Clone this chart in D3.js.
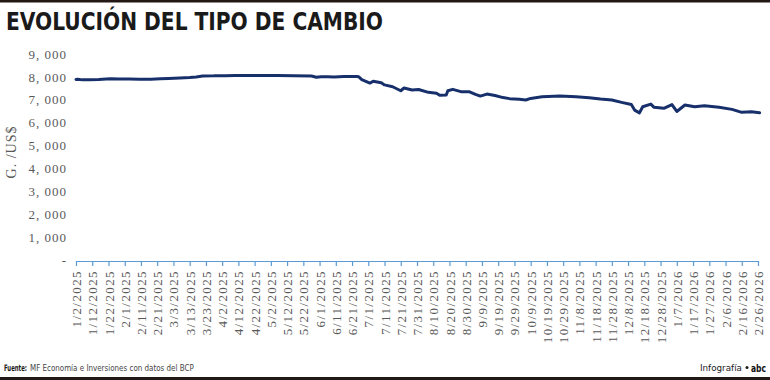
<html>
<style>
    body {
      margin: 0;
      background: #fff;
    }
    .axis text {
      font-family: "Liberation Serif", "DejaVu Serif", serif;
      fill: #595959;
    }
</style>
<body>
<script src="https://cdn.jsdelivr.net/npm/d3@7"></script>
<script>
// data (guaranies per US$)
const dates = [
  "1/2/2025","1/3/2025","1/6/2025","1/10/2025","1/16/2025","1/23/2025","1/29/2025","2/4/2025","2/10/2025","2/17/2025",
  "2/23/2025","2/28/2025","3/7/2025","3/13/2025","3/17/2025","3/21/2025","3/28/2025","3/31/2025","4/4/2025","4/10/2025",
  "4/18/2025","4/28/2025","5/6/2025","5/16/2025","5/27/2025","5/30/2025","6/2/2025","6/6/2025","6/10/2025","6/16/2025",
  "6/20/2025","6/24/2025","6/25/2025","6/27/2025","7/2/2025","7/4/2025","7/9/2025","7/11/2025","7/16/2025","7/21/2025",
  "7/23/2025","7/28/2025","8/1/2025","8/7/2025","8/12/2025","8/14/2025","8/18/2025","8/19/2025","8/22/2025","8/27/2025",
  "9/1/2025","9/5/2025","9/8/2025","9/12/2025","9/17/2025","9/22/2025","9/26/2025","10/2/2025","10/6/2025","10/9/2025",
  "10/16/2025","10/27/2025","11/6/2025","11/14/2025","11/21/2025","11/28/2025","12/4/2025","12/10/2025","12/12/2025","12/15/2025",
  "12/17/2025","12/22/2025","12/24/2025","12/30/2025","1/4/2026","1/7/2026","1/12/2026","1/18/2026","1/24/2026","2/2/2026",
  "2/10/2026","2/16/2026","2/22/2026","2/27/2026"
];
const values = [
  7890,7900,7870,7875,7885,7915,7905,7905,7895,7900,
  7915,7930,7950,7975,8000,8035,8045,8055,8045,8065,
  8065,8060,8060,8055,8040,7985,8010,8005,8000,8020,
  8015,8020,8010,7880,7730,7810,7740,7650,7570,7395,
  7515,7430,7450,7325,7285,7195,7205,7395,7455,7355,
  7355,7235,7160,7250,7185,7095,7050,7020,6990,7060,
  7130,7160,7130,7090,7030,6990,6885,6790,6550,6430,
  6695,6810,6670,6625,6790,6490,6770,6695,6740,6670,
  6580,6450,6475,6430
];

const xTickLabels = [
  "1/2/2025","1/12/2025","1/22/2025","2/1/2025","2/11/2025","2/21/2025","3/3/2025","3/13/2025","3/23/2025",
  "4/2/2025","4/12/2025","4/22/2025","5/2/2025","5/12/2025","5/22/2025","6/1/2025","6/11/2025","6/21/2025",
  "7/1/2025","7/11/2025","7/21/2025","7/31/2025","8/10/2025","8/20/2025","8/30/2025","9/9/2025","9/19/2025",
  "9/29/2025","10/9/2025","10/19/2025","10/29/2025","11/8/2025","11/18/2025","11/28/2025","12/8/2025",
  "12/18/2025","12/28/2025","1/7/2026","1/17/2026","1/27/2026","2/6/2026","2/16/2026","2/26/2026"
];
const yTicks = [0,1000,2000,3000,4000,5000,6000,7000,8000,9000];

const W = 770, H = 380;
const parse = d3.timeParse("%-m/%-d/%Y");
const fmt = d3.timeFormat("%-m/%-d/%Y");

const svg = d3.select("body").append("svg")
    .attr("width", W)
    .attr("height", H)
    .style("display", "block");

// squeeze text horizontally so it is w wide, keeping its height
const squeeze = (sel, x, y, w) => {
    const len = sel.node().getComputedTextLength()
    sel.attr("transform", `translate(${x},${y}) scale(${(w / len).toFixed(3)},1)`)
    return sel
}

// bars top and bottom
svg.append("rect").attr("x", 0).attr("y", 0).attr("width", W).attr("height", 2.5).attr("fill", "#231815");
svg.append("rect").attr("x", 0).attr("y", 377).attr("width", W).attr("height", 3).attr("fill", "#231815");

svg.append("text")
    .attr("x", 6).attr("y", 30)
    .attr("textLength", 377).attr("lengthAdjust", "spacingAndGlyphs")
    .style("font", "bold 24px 'Liberation Sans Narrow', 'DejaVu Sans Condensed', sans-serif")
    .attr("fill", "#1a1a1a")
    .text("EVOLUCIÓN DEL TIPO DE CAMBIO");

let xScale = d3.scaleTime().domain([parse("1/2/2025"), parse("2/26/2026")]).range([76, 758]),
    yScale = d3.scaleLinear().domain([0, 9000]).range([260, 54]);

const xAxis = d3.axisBottom(xScale)
    .tickValues(xTickLabels.map(parse))
    .tickFormat(fmt)
    .tickSize(5)
    .tickSizeOuter(0);

const gx = svg.append("g")
    .attr("class", "axis")
    .attr("transform", "translate(0,261)")
    .call(xAxis);
gx.select(".domain").attr("stroke", "#5b9bd5").attr("stroke-width", 1.2);
gx.selectAll(".tick line").attr("stroke", "#5b9bd5").attr("stroke-width", 1.2);
gx.selectAll(".tick text")
    .attr("transform", "rotate(-90)")
    .attr("x", -9).attr("y", 0).attr("dy", "0.35em")
    .attr("text-anchor", "end")
    .style("font-size", "13px")
    .style("letter-spacing", "1.4px");

const yAxis = d3.axisLeft(yScale)
    .tickValues(yTicks)
    .tickFormat(d => d === 0 ? "-" : d3.format(",")(d).replace(",", ", "))
    .tickSize(0)
    .tickPadding(0);

const gy = svg.append("g")
    .attr("class", "axis")
    .attr("transform", "translate(67,0)")
    .call(yAxis);
gy.select(".domain").remove();
gy.selectAll(".tick text")
    .style("font-size", "13px")
    .style("letter-spacing", "1px");

svg.append("text")
    .attr("transform", "translate(16,152) rotate(-90)")
    .attr("text-anchor", "middle")
    .style("font", "14px 'Liberation Serif', 'DejaVu Serif', serif")
    .style("letter-spacing", "1px")
    .attr("fill", "#595959")
    .text("G. /US$");

// line
const series = dates.map((d, i) => ({date: parse(d), value: values[i]}));
const line = d3.line()
    .x(d => xScale(d.date))
    .y(d => yScale(d.value));

svg.append("path")
    .datum(series)
    .attr("d", line)
    .attr("fill", "none")
    .attr("stroke", "#17306b")
    .attr("stroke-width", 3)
    .attr("stroke-linejoin", "round")
    .attr("stroke-linecap", "round");

// footer
const narrow = "'Liberation Sans Narrow', 'DejaVu Sans Condensed', sans-serif";
squeeze(svg.append("text")
    .style("font", `bold 9px ${narrow}`)
    .attr("fill", "#1a1a1a")
    .text("Fuente:"), 4, 371, 23);
squeeze(svg.append("text")
    .style("font", `9px ${narrow}`)
    .attr("fill", "#444")
    .text("MF Economía e Inversiones con datos del BCP"), 30, 371, 164);

squeeze(svg.append("text")
    .style("font", `9px ${narrow}`)
    .attr("fill", "#1a1a1a")
    .text("Infografía"), 700, 371, 42);
svg.append("circle").attr("cx", 747).attr("cy", 367.5).attr("r", 1.5).attr("fill", "#1a1a1a");
squeeze(svg.append("text")
    .style("font", "bold 10px 'DejaVu Sans', sans-serif")
    .attr("fill", "#111")
    .text("abc"), 751, 371.5, 15);
</script>
</body>
</html>
